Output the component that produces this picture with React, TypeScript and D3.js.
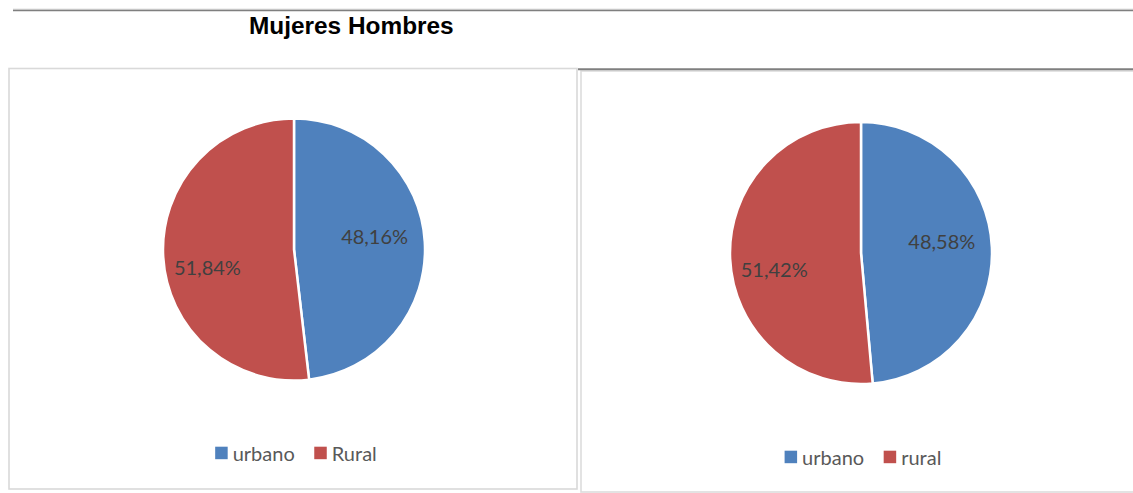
import React, { useEffect, useRef } from "react";
import * as d3 from "d3";

const title = "Mujeres Hombres";
const mujeresCategories = ["urbano", "Rural"];
const mujeresValues = [48.16, 51.84];
const hombresCategories = ["urbano", "rural"];
const hombresValues = [48.58, 51.42];
const colors = ["#4F81BD", "#C0504D"];

const W = 1133;
const H = 493;

export default function App() {
  const ref = useRef<SVGSVGElement | null>(null);

  useEffect(() => {
    const svg = d3.select(ref.current);
    svg.selectAll("*").remove();
    svg.append("rect").attr("width", W).attr("height", H).attr("fill", "#fff");

    // top rule
    svg.append("line").attr("x1", 13).attr("x2", W).attr("y1", 9.2).attr("y2", 9.2)
      .attr("stroke", "#d0d0d0").attr("stroke-width", 1);
    svg.append("line").attr("x1", 13).attr("x2", W).attr("y1", 10.5).attr("y2", 10.5)
      .attr("stroke", "#7f7f7f").attr("stroke-width", 1.4);

    svg.append("text").attr("x", 249).attr("y", 34)
      .attr("font-family", "'Liberation Sans', Arial, sans-serif")
      .attr("font-weight", "bold").attr("font-size", 24.4).attr("fill", "#000")
      .text(title);

    // panels
    svg.append("rect").attr("x", 9).attr("y", 68.5).attr("width", 568).attr("height", 420.5)
      .attr("fill", "none").attr("stroke", "#d9d9d9").attr("stroke-width", 1.6);
    svg.append("rect").attr("x", 581).attr("y", 71).attr("width", 560).attr("height", 421)
      .attr("fill", "none").attr("stroke", "#dcdcdc").attr("stroke-width", 1.6);
    svg.append("line").attr("x1", 578).attr("x2", W).attr("y1", 69.3).attr("y2", 69.3)
      .attr("stroke", "#7f7f7f").attr("stroke-width", 2);

    const drawPie = (
      cx: number, cy: number, r: number,
      cats: string[], vals: number[], legendY: number
    ) => {
      const g = svg.append("g").attr("transform", `translate(${cx},${cy})`);
      const pie = d3.pie<number>().sort(null).value((d) => d).startAngle(0).endAngle(2 * Math.PI);
      const arcs = pie(vals);
      const arc = d3.arc<d3.PieArcDatum<number>>().innerRadius(0).outerRadius(r);
      g.selectAll("path.slice").data(arcs).enter().append("path")
        .attr("d", arc as any)
        .attr("fill", (_d, i) => colors[i])
        .attr("stroke", "#fff").attr("stroke-width", 2.5).attr("stroke-linejoin", "round");

      const shift = (-7 * Math.PI) / 180;
      const lr = 85;
      g.selectAll("text.lbl").data(arcs).enter().append("text")
        .attr("x", (d) => lr * Math.sin((d.startAngle + d.endAngle) / 2 + shift) - 3)
        .attr("y", (d) => -lr * Math.cos((d.startAngle + d.endAngle) / 2 + shift) + 3)
        .attr("dy", "0.36em")
        .attr("text-anchor", "middle")
        .attr("font-family", "Lato, 'Open Sans', sans-serif")
        .attr("font-size", 20).attr("fill", "#404040")
        .text((d) => d.value.toFixed(2).replace(".", ",") + "%");

      // legend
      const lg = svg.append("g");
      const sq = 12.5;
      const gapText = 5;
      const gapItem = 19.5;
      const items = cats.map((c, i) => {
        const t = lg.append("text")
          .attr("font-family", "Lato, 'Open Sans', sans-serif")
          .attr("font-size", 20).attr("fill", "#595959")
          .attr("y", legendY).text(c);
        const w = (t.node() as SVGTextElement).getComputedTextLength();
        return { t, w, i };
      });
      const total = items.reduce((s, it) => s + sq + gapText + it.w, 0) + gapItem * (items.length - 1);
      let x = cx + 2 - total / 2;
      items.forEach((it) => {
        lg.append("rect").attr("x", x).attr("y", legendY - 14.3).attr("width", sq).attr("height", sq)
          .attr("fill", colors[it.i]);
        it.t.attr("x", x + sq + gapText);
        x += sq + gapText + it.w + gapItem;
      });
    };

    drawPie(294, 249.5, 131, mujeresCategories, mujeresValues, 461);
    drawPie(861, 253, 131, hombresCategories, hombresValues, 465);
  }, []);

  return (
    <svg
      ref={ref}
      width={W}
      height={H}
      style={{ position: "absolute", left: 0, top: 0, display: "block" }}
    />
  );
}
